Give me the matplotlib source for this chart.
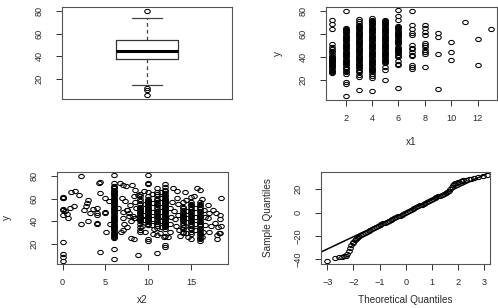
import matplotlib
matplotlib.use("Agg")
import matplotlib.pyplot as plt
from matplotlib.path import Path
from matplotlib.transforms import Affine2D

plt.rcParams['font.family'] = ['Liberation Sans', 'DejaVu Sans']

# ---------------- data ----------------
# Panel 1: boxplot statistics of y
box_median = 45
box_q1 = 38
box_q3 = 54
box_whislo = 14.5
box_whishi = 73.5
box_fliers = [80, 12, 10.5, 5.5]

# Panel 2: y against x1 (integer x1 values, one list of y per value)
x1_values = [1, 2, 3, 4, 5, 6, 7, 8, 9, 10, 11, 12, 13]
x1_col_1 = [72.5, 68.5, 64.5, 51, 48.5, 47, 45.5, 44, 42.5, 41, 40, 39, 38, 37.5, 37, 36,
            35.5, 35, 34, 33, 32, 31, 30, 29, 28, 27, 26]
x1_col_2 = [80, 65.5, 64.5, 63.5, 62.5, 61.5, 60.5, 59.5, 58.5, 57.5, 56.5, 55.5, 54.5, 53.5,
            52.5, 51.5, 50.5, 49.5, 48.5, 47.5, 46.5, 45.5, 44.5, 43.5, 42.5, 41.5, 40.5, 39.5,
            38.5, 37.5, 36.5, 35.5, 34.5, 33.5, 32.5, 31.5, 30.5, 29.5, 28, 26.5, 25, 18, 16, 6]
x1_col_3 = [73, 71.5, 69.5, 68, 67, 66, 65, 64, 63, 62, 61, 60, 59, 58, 57, 56, 55, 54, 53, 52,
            51, 50, 49, 48, 47, 46, 45, 44, 43, 42, 41, 40, 39, 38, 37, 36, 35, 34, 33, 32, 31,
            30, 29, 28, 26.5, 24.5, 22.5, 11]
x1_col_4 = [73.5, 72.5, 71.5, 70.5, 69.5, 68.5, 67.5, 66.5, 65.5, 64.5, 63.5, 62.5, 61.5, 60.5,
            59.5, 58.5, 57.5, 56.5, 55.5, 54.5, 53.5, 52.5, 51.5, 50.5, 49.5, 48.5, 47.5, 46.5,
            45.5, 44.5, 43.5, 42.5, 41.5, 40.5, 39.5, 38.5, 37.5, 36.5, 35.5, 34.5, 33.5, 32.5,
            31.5, 30.5, 29.5, 28.5, 27.5, 26.5, 25, 23.5, 22, 10]
x1_col_5 = [72.5, 71.5, 70.5, 69.5, 68.5, 67.5, 66.5, 65.5, 64.5, 63.5, 62.5, 61.5, 60.5, 59.5,
            58.5, 57.5, 56.5, 55.5, 54.5, 53.5, 52.5, 51.5, 50.5, 49.5, 48.5, 47.5, 46.5, 45.5,
            44.5, 43.5, 42.5, 41.5, 40.5, 39.5, 38.5, 37.5, 36.5, 35.5, 34.5, 31, 28.5, 19.5]
x1_col_6 = [80.5, 75.5, 72, 67, 66, 65, 64, 63, 62, 61, 60, 59, 58, 57, 56, 55, 54, 53, 52,
            51, 49, 48, 47, 46, 45, 44, 43, 42, 41, 39.5, 36, 33.5, 33, 12.5]
x1_col_7 = [80, 68, 64.5, 61, 59, 50, 48, 46.5, 44, 42, 40.5, 33, 31, 29.5]
x1_col_8 = [68, 65.5, 62, 59, 52, 50, 48.5, 46, 44, 42.5, 31]
x1_col_9 = [61, 57, 42.5, 12]
x1_col_10 = [53, 44, 37.5]
x1_col_11 = [70.5]
x1_col_12 = [56, 32.5]
x1_col_13 = [64]
x1_columns = [x1_col_1, x1_col_2, x1_col_3, x1_col_4, x1_col_5, x1_col_6, x1_col_7,
              x1_col_8, x1_col_9, x1_col_10, x1_col_11, x1_col_12, x1_col_13]

# Panel 3: y against x2 (stacked columns plus scattered points)
x2_col_values = [0, 6, 9, 10, 11, 12, 14, 15, 16]
x2_col_0 = [61, 60.5, 61.5, 51, 50, 45.5, 22, 11, 8.3, 5]
x2_col_6 = [80.5, 73.5, 71.5, 70, 69, 68, 67, 66, 65, 64, 63, 62, 61, 60, 59, 58, 57, 56, 55,
            54, 53, 52, 51, 50, 49, 48, 47, 46, 45, 44, 43, 42, 41, 40, 39, 38, 37, 36, 35, 34,
            33, 32, 31, 30, 29, 28, 27, 26, 25, 15.5, 6.5]
x2_col_9 = [64.5, 62, 60, 57.5, 55, 53, 52, 51, 50, 49, 48, 47, 46, 45, 44, 43, 42, 41, 40,
            38, 35, 32, 30.5]
x2_col_10 = [80.5, 73.5, 72.5, 66, 62, 60, 59, 58, 57, 56, 55, 54, 53, 52, 51, 50, 49, 48, 47,
             46, 45, 44, 43, 42, 41, 40, 39, 38, 37, 24, 23]
x2_col_11 = [69, 66, 64, 62, 60, 58.5, 57, 55.5, 54, 52.5, 51, 49.5, 48, 46.5, 45, 43.5, 42,
             40.5, 39, 37.5, 36, 34.5, 28, 12.2]
x2_col_12 = [72.5, 70, 68, 66.5, 65, 63.5, 62, 61, 60, 59, 58, 57, 56, 55, 54, 53, 52, 51, 50,
             49, 48, 47, 46, 45, 44, 43, 42, 41, 40, 39, 38, 37, 36, 35, 33, 27, 19.5, 17.5]
x2_col_14 = [57, 53, 51.5, 50, 48.5, 47, 46, 45, 44, 43, 42, 41, 40, 38.5, 37, 35, 33, 31, 29.5]
x2_col_15 = [61.5, 57, 55.5, 54, 52.5, 51, 49.5, 48, 46.5, 45, 43.5, 42, 40.5, 39, 37.5, 36,
             34.5, 33, 31, 29, 24]
x2_col_16 = [67.5, 57, 55.5, 54, 52.5, 51, 49.5, 48, 46.5, 45, 43.5, 42, 40.5, 39, 37.5, 36,
             34.5, 33, 31.5, 30, 28.5, 27, 25.5, 24, 23]
x2_columns = [x2_col_0, x2_col_6, x2_col_9, x2_col_10, x2_col_11, x2_col_12, x2_col_14,
              x2_col_15, x2_col_16]

x2_scatter_x = [0.5, 0.6, 0.3, 0.9, 1.0, 1.3, 1.5, 1.9, 2.1, 2.1, 2.5, 2.7, 2.8, 3.0, 3.0, 3.2,
                3.6, 4.0, 4.0, 4.0, 4.0, 4.0, 4.2, 4.4, 4.4, 5.0, 5.0, 5.0, 5.4, 5.5, 5.1, 6.7,
                7.1, 7.4, 6.9, 7.3, 7.9, 8.1, 8.5, 8.0, 8.8, 7.5, 7.0, 7.8, 8.3, 8.0, 7.2, 6.8,
                7.5, 8.5, 8.3, 6.5, 7.0, 4.4, 8.3, 7.1,
                7.5, 7.8, 8.2, 8.4, 8.6, 8.8, 9.5, 9.6, 9.4, 9.5, 9.3, 9.6, 10.4, 10.5, 10.5,
                10.6, 10.4, 10.7, 10.5, 11.5, 11.5, 11.4, 11.6, 11.5, 11.6, 11.4, 11.8, 12.3,
                12.5, 12.5, 12.6, 12.5, 12.8, 12.9, 13.0, 13.1, 13.2, 13.4, 13.3, 13.5, 13.5,
                13.6, 13.7, 14.3, 14.4, 14.5, 14.5, 14.3, 14.4, 14.6, 15.3, 15.5, 15.4, 15.5,
                15.4, 15.7, 16.3, 16.5, 16.6, 16.6, 16.4, 16.3, 17.0, 17.1, 17.0, 17.1, 17.3,
                17.6, 17.8, 17.9, 18.1, 18.0, 18.2, 18.4, 18.4, 18.4, 18.5, 18.5, 18.0]
x2_scatter_y = [46.9, 43, 48.7, 51.6, 65.7, 53.1, 66.8, 63.3, 80.3, 37.6, 50, 53.6, 56, 58.9,
                39.9, 47.2, 50.5, 45.7, 47, 37.6, 38.5, 52, 73.6, 64.8, 13, 47.2, 48, 61, 57.5,
                37.6, 30.8, 73.6, 72, 71, 60.4, 57.5, 54, 72, 67.7, 25.5, 10.3, 50, 48, 45, 43,
                40, 38, 31, 35, 57, 62, 52, 43, 74.7, 24, 32.3,
                50, 47, 45, 42.5, 52, 63, 67, 55, 46, 41, 36, 31, 64, 56, 48, 42, 37, 33, 29,
                66, 61, 53, 45, 40, 35, 30, 26, 26, 31, 38, 44, 52, 57, 69, 49, 42, 36, 67, 61,
                55, 46, 32, 27, 66, 59, 49, 43, 36, 30, 26, 62, 52, 44, 38, 32, 69, 60, 50, 44,
                37, 31, 26, 54, 47, 42.8, 31, 36, 50, 38.5, 47, 35, 28, 29.4, 30, 42, 46, 60.5,
                36, 24.5]

# Panel 4: normal Q-Q plot of the residuals
qq_theoretical = [-3.0, -2.72, -2.55, -2.45, -2.37, -2.3, -2.23, -2.17, -2.12, -2.08, -2.03,
                  -2.0, -1.96, -1.92, -1.88,
                  -1.84, -1.77, -1.70, -1.63, -1.56, -1.49, -1.42, -1.35, -1.28, -1.21, -1.14,
                  -1.07, -1.00, -0.93, -0.86, -0.79, -0.72, -0.65, -0.58, -0.51, -0.44, -0.37,
                  -0.30, -0.23, -0.16, -0.09, -0.02, 0.05, 0.12, 0.19, 0.26, 0.33, 0.40, 0.47,
                  0.54, 0.61, 0.68, 0.75, 0.82, 0.89, 0.96, 1.03, 1.10, 1.17, 1.24, 1.31, 1.38,
                  1.45, 1.52, 1.59, 1.66,
                  1.70, 1.75, 1.80, 1.85, 1.90, 1.95, 2.00, 2.05, 2.10, 2.15, 2.20, 2.30, 2.40,
                  2.50, 2.60, 2.75, 2.95, 3.10]
qq_sample = [-41.5, -39, -38.2, -38, -37.6, -37, -36, -33, -30.5, -28, -26, -25, -23.5, -22.5,
             -21.8,
             -20.8, -19.9, -19.0, -18.2, -17.3, -16.4, -15.5, -14.7, -13.9, -13.1, -12.3, -11.6,
             -10.9, -10.1, -9.3, -8.6, -7.9, -7.2, -6.5, -5.7, -5.0, -4.2, -3.4, -2.6, -1.8,
             -1.1, -0.3, 0.5, 1.3, 2.1, 2.9, 3.7, 4.5, 5.3, 6.1, 6.9, 7.7, 8.5, 9.2, 10.0,
             10.7, 11.5, 12.3, 13.1, 13.8, 14.6, 15.4, 16.2, 17.0, 17.9, 18.8,
             20, 22, 23.5, 24.5, 25, 25.5, 26, 26.5, 27, 27.3, 27.6, 28, 28.5, 29, 29.6, 30.3,
             31.3, 32]
qqline_intercept = 0.5
qqline_slope = 10.65

# ---------------- drawing ----------------
ring = Affine2D().scale(1.0, 0.76).transform_path(Path.unit_circle())
mk = dict(linestyle='none', marker=ring, markersize=4.0, markerfacecolor='none',
          markeredgecolor='black', markeredgewidth=0.75)

TXT = '#2a2a2a'
SPINE = '#555555'


def style(ax, xticks, yticks, xlim, ylim):
    ax.set_xlim(*xlim)
    ax.set_ylim(*ylim)
    ax.set_xticks(xticks)
    ax.set_yticks(yticks)
    ax.tick_params(axis='both', direction='out', length=4.3, width=0.7, color='#333333',
                   labelsize=6.6, labelcolor=TXT)
    ax.tick_params(axis='x', pad=6)
    ax.tick_params(axis='y', pad=9, labelrotation=90)
    for lbl in ax.get_yticklabels():
        lbl.set_va('center')
    for s in ax.spines.values():
        s.set_color(SPINE)
        s.set_linewidth(0.8)


fig = plt.figure(figsize=(4.98, 3.08), dpi=100)
fig.patch.set_facecolor('white')

ax1 = fig.add_axes([0.1245, 0.6786, 0.3414, 0.2987])
ax2 = fig.add_axes([0.6546, 0.6753, 0.3434, 0.3019])
ax3 = fig.add_axes([0.1145, 0.1429, 0.3434, 0.2987])
ax4 = fig.add_axes([0.6446, 0.1429, 0.3394, 0.2987])

# Panel 1 boxplot
stats = [dict(med=box_median, q1=box_q1, q3=box_q3, whislo=box_whislo, whishi=box_whishi,
              fliers=box_fliers)]
ax1.bxp(stats, positions=[1], widths=0.36, capwidths=0.18, showfliers=True,
        boxprops=dict(color='#333333', linewidth=0.9),
        medianprops=dict(color='black', linewidth=2.2, solid_capstyle='butt'),
        whiskerprops=dict(color='#444444', linewidth=0.9, linestyle=(0, (3, 2.5))),
        capprops=dict(color='#444444', linewidth=0.9),
        flierprops=dict(marker=ring, markersize=4.0, markerfacecolor='none',
                        markeredgecolor='black', markeredgewidth=0.75, linestyle='none'))
style(ax1, [], [20, 40, 60, 80], (0.5, 1.5), (2.4, 83.5))
ax1.tick_params(axis='x', length=0)

# Panel 2
for xv, ys in zip(x1_values, x1_columns):
    ax2.plot([xv] * len(ys), ys, **mk)
style(ax2, [2, 4, 6, 8, 10, 12], [20, 40, 60, 80], (0.52, 13.45), (2.4, 83.5))
ax2.text(0.5, -0.45, 'x1', transform=ax2.transAxes, ha='center', va='center',
         fontsize=7.2, color=TXT)
ax2.text(-0.281, 0.5, 'y', transform=ax2.transAxes, ha='center', va='center',
         fontsize=7.2, color=TXT, rotation=90)

# Panel 3
for xv, ys in zip(x2_col_values, x2_columns):
    ax3.plot([xv] * len(ys), ys, **mk)
ax3.plot(x2_scatter_x, x2_scatter_y, **mk)
style(ax3, [0, 5, 10, 15], [20, 40, 60, 80], (-0.65, 19.3), (2.4, 83.5))
ax3.text(0.497, -0.395, 'x2', transform=ax3.transAxes, ha='center', va='center',
         fontsize=7.2, color=TXT)
ax3.text(-0.29, 0.5, 'y', transform=ax3.transAxes, ha='center', va='center',
         fontsize=7.2, color=TXT, rotation=90)

# Panel 4
ax4.plot(qq_theoretical, qq_sample, **mk)
ax4.axline((0, qqline_intercept), slope=qqline_slope, color='black', linewidth=1.1)
style(ax4, [-3, -2, -1, 0, 1, 2, 3], [-40, -20, 0, 20], (-3.24, 3.22), (-44.3, 34.9))
ax4.text(0.497, -0.395, 'Theoretical Quantiles', transform=ax4.transAxes, ha='center',
         va='center', fontsize=7.2, color=TXT)
ax4.text(-0.314, 0.505, 'Sample Quantiles', transform=ax4.transAxes, ha='center',
         va='center', fontsize=7.2, color=TXT, rotation=90)

fig.savefig('out.png', dpi=100)
